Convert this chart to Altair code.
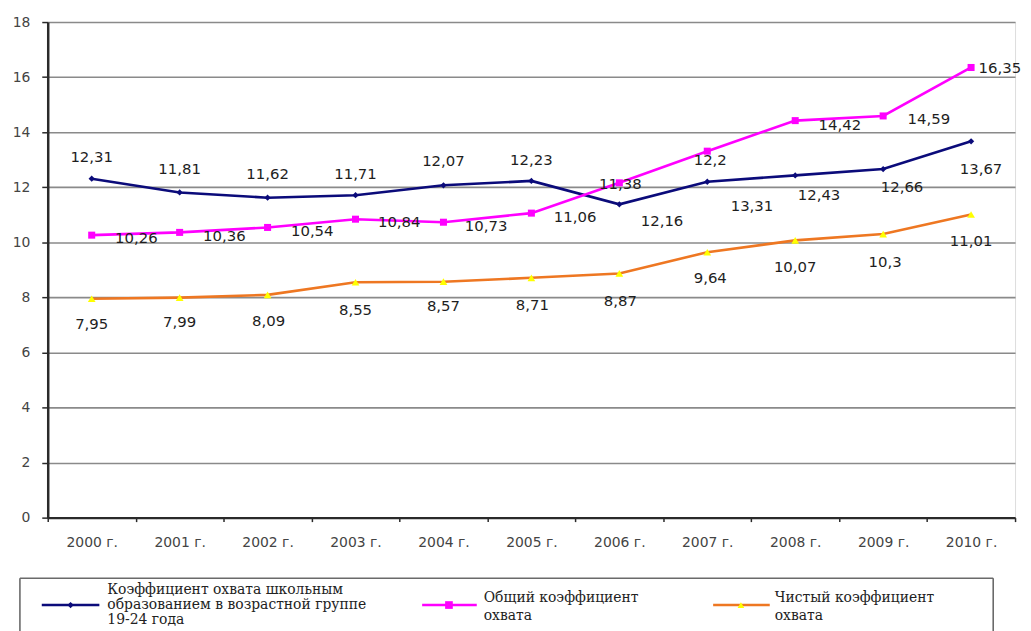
import altair as alt
import pandas as pd

# ---------------- data ----------------
years = ["2000 г.", "2001 г.", "2002 г.", "2003 г.", "2004 г.", "2005 г.",
         "2006 г.", "2007 г.", "2008 г.", "2009 г.", "2010 г."]
series_keys = ["school", "gross", "net"]
series_names = [
    "Коэффициент охвата школьным образованием в возрастной группе 19-24 года",
    "Общий коэффициент охвата",
    "Чистый коэффициент охвата",
]
school = [12.31, 11.81, 11.62, 11.71, 12.07, 12.23, 11.38, 12.2, 12.43, 12.66, 13.67]
gross = [10.26, 10.36, 10.54, 10.84, 10.73, 11.06, 12.16, 13.31, 14.42, 14.59, 16.35]
net = [7.95, 7.99, 8.09, 8.55, 8.57, 8.71, 8.87, 9.64, 10.07, 10.3, 11.01]
y_ticks = [0, 2, 4, 6, 8, 10, 12, 14, 16, 18]

legend_lines = [
    ["Коэффициент охвата школьным", "образованием в возрастной группе", "19-24 года"],
    ["Общий коэффициент", "охвата"],
    ["Чистый коэффициент", "охвата"],
]

# ---------------- styles / layout ----------------
line_colors = ["#0b0b7a", "#ff00ff", "#ee7722"]
marker_fills = ["#0b0b7a", "#ff00ff", "#ffff00"]
marker_shapes = ["diamond", "square", "triangle-up"]
marker_sizes = [40, 60, 45]

label_offsets = {
    "school": [(0, -22), (0, -24), (0, -24), (0, -21), (0, -24), (0, -21),
               (1, -20), (3, -22), (24, 20), (19, 18), (10, 28)],
    "gross": [(45, 3), (45, 4), (45, 4), (44, 3), (43, 4), (44, 4),
              (43, 38), (45, 55), (45, 4), (46, 3), (29, 1)],
    "net": [(0, 25), (0, 25), (1, 26), (0, 28), (0, 25), (1, 27),
            (1, 28), (3, 26), (0, 27), (2, 28), (0, 27)],
}

values_by_key = {"school": school, "gross": gross, "net": net}
rows = []
for k, name in zip(series_keys, series_names):
    for i, (yr, v) in enumerate(zip(years, values_by_key[k])):
        rows.append({"year": yr, "series": k, "name": name, "value": v,
                     "text": str(v).replace(".", ","), "key": f"{k}_{i}"})
df = pd.DataFrame(rows)

FONT = "DejaVu Sans"
x_enc = alt.X("year:N", sort=years,
              scale=alt.Scale(type="band", paddingInner=0, paddingOuter=0),
              axis=alt.Axis(title=None, labelAngle=0, tickBand="extent",
                            domainColor="#2a2a2a", domainWidth=2.5,
                            tickColor="#2a2a2a", tickWidth=1.5, tickSize=4,
                            labelPadding=14, labelFont=FONT, labelFontSize=14,
                            labelColor="#444444", grid=False))
y_enc = alt.Y("value:Q",
              scale=alt.Scale(domain=[0, 18], nice=False, zero=True),
              axis=alt.Axis(title=None, values=y_ticks, grid=True,
                            gridColor="#8a8a8a", gridWidth=1.6,
                            domainColor="#2a2a2a", domainWidth=2.5,
                            tickColor="#2a2a2a", tickWidth=1.5, tickSize=6,
                            labelPadding=12, labelFont=FONT, labelFontSize=14,
                            labelColor="#444444"))

base = alt.Chart(df)

lines = base.mark_line(strokeWidth=2.6).encode(
    x=x_enc, y=y_enc,
    color=alt.Color("series:N", scale=alt.Scale(domain=series_keys, range=line_colors), legend=None),
    detail="series:N",
)

points = base.mark_point(filled=True, opacity=1, strokeWidth=0).encode(
    x=x_enc, y=y_enc,
    fill=alt.Fill("series:N", scale=alt.Scale(domain=series_keys, range=marker_fills), legend=None),
    shape=alt.Shape("series:N", scale=alt.Scale(domain=series_keys, range=marker_shapes), legend=None),
    size=alt.Size("series:N", scale=alt.Scale(domain=series_keys, range=marker_sizes), legend=None),
)

# group labels by offset
groups = {}
for k in series_keys:
    for i, off in enumerate(label_offsets[k]):
        groups.setdefault(off, []).append(f"{k}_{i}")

label_layers = []
for (dx, dy), keys in groups.items():
    label_layers.append(
        base.mark_text(dx=dx, dy=dy, align="center", baseline="middle",
                       font=FONT, fontSize=15, color="#1e1e1e").encode(
            x=x_enc, y=y_enc, text="text:N"
        ).transform_filter(alt.FieldOneOfPredicate(field="key", oneOf=keys))
    )

# ---------------- legend (drawn) ----------------
one = pd.DataFrame({"d": [0]})
LEG_FONT = "DejaVu Serif"
legend_layers = []
box_color = "#6a6a6a"
legend_layers.append(alt.Chart(one).mark_rule(color=box_color, strokeWidth=1.6).encode(
    x=alt.value(-28), x2=alt.value(952), y=alt.value(560)))
legend_layers.append(alt.Chart(one).mark_rule(color=box_color, strokeWidth=1.6).encode(
    x=alt.value(-28), y=alt.value(560), y2=alt.value(615)))
legend_layers.append(alt.Chart(one).mark_rule(color=box_color, strokeWidth=1.6).encode(
    x=alt.value(952), y=alt.value(560), y2=alt.value(615)))

sym_x = [(-6, 52, 23), (377, 432, 404), (670, 727, 698)]
text_x = [60, 439, 732]
line_ys = [[572, 587, 602], [580, 598], [580, 598]]
sym_y = 587
for j in range(3):
    x1, x2, xm = sym_x[j]
    legend_layers.append(alt.Chart(one).mark_rule(color=line_colors[j], strokeWidth=2.6).encode(
        x=alt.value(x1), x2=alt.value(x2), y=alt.value(sym_y)))
    legend_layers.append(alt.Chart(one).mark_point(
        filled=True, opacity=1, strokeWidth=0, shape=marker_shapes[j],
        size=marker_sizes[j], fill=marker_fills[j]).encode(
        x=alt.value(xm), y=alt.value(sym_y)))
    for t, yy in zip(legend_lines[j], line_ys[j]):
        legend_layers.append(alt.Chart(pd.DataFrame({"t": [t]})).mark_text(
            align="left", baseline="middle", font=LEG_FONT, fontSize=14,
            color="#222222").encode(x=alt.value(text_x[j]), y=alt.value(yy), text="t:N"))

chart = alt.layer(lines, points, *label_layers, *legend_layers).properties(
    width=974, height=499,
    padding={"left": 40, "top": 12, "right": 8, "bottom": 112},
    autosize=alt.AutoSizeParams(type="none"),
).configure_view(stroke="#9a9a9a", strokeWidth=1.5).configure(background="white")

chart.save("out.html", embed_options={"renderer": "svg", "actions": False})
